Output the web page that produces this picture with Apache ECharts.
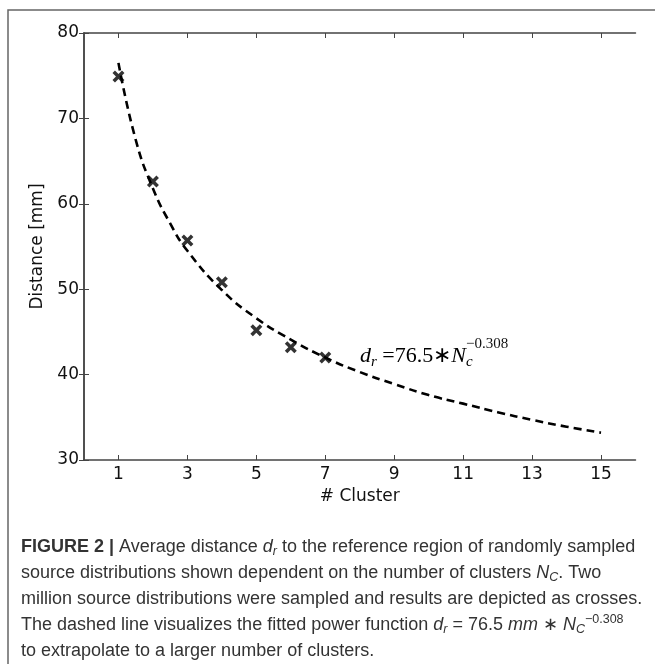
<!DOCTYPE html>
<html>
<head>
<meta charset="utf-8">
<script src="https://cdn.jsdelivr.net/npm/echarts/dist/echarts.min.js"></script>
<style>
  html, body { margin: 0; padding: 0; background: #fff; }
  #chart { width: 655px; height: 664px; }
</style>
</head>
<body>
<div id="chart"></div>
<script>
// measured crosses (# cluster -> distance in mm)
const clusters = [1, 2, 3, 4, 5, 6, 7];
const distances = [74.9, 62.6, 55.7, 50.8, 45.2, 43.2, 42.0];

// dashed fitted curve
const fitX = [1, 1.5, 2, 2.5, 3, 4, 5, 6, 7, 8, 9, 10, 11, 12, 13, 14, 15];
const fitY = [76.5, 67.5, 61.8, 57.7, 54.5, 49.9, 46.6, 44.1, 42.0, 40.3, 38.9, 37.6, 36.6, 35.6, 34.7, 33.9, 33.2];

const xTicks = [1, 3, 5, 7, 9, 11, 13, 15];

const captionLines = [
  '{b|FIGURE 2 |} Average distance {i|d}{isub|r} to the reference region of randomly sampled',
  'source distributions shown dependent on the number of clusters {i|N}{isub|C}. Two',
  'million source distributions were sampled and results are depicted as crosses.',
  'The dashed line visualizes the fitted power function {i|d}{isub|r} = 76.5{i| mm} \u2217 {i|N}{isub|C}{sup|\u22120.308}',
  'to extrapolate to a larger number of clusters.'
];

const axisColor = '#444';
const labelFont = { fontFamily: 'DejaVu Sans', fontSize: 17, color: '#111' };
const crossPath = 'path://M0,2.5L2.5,0L6,3.5L9.5,0L12,2.5L8.5,6L12,9.5L9.5,12L6,8.5L2.5,12L0,9.5L3.5,6Z';
const capSize = 18;

const capRich = {
  b: { fontWeight: 'bold', fontFamily: 'Liberation Sans', fontSize: capSize, color: '#222' },
  i: { fontStyle: 'italic', fontFamily: 'Liberation Sans', fontSize: capSize, color: '#333' },
  isub: { fontStyle: 'italic', fontFamily: 'Liberation Sans', fontSize: 12.5, color: '#333', padding: [10, 0, 0, 0] },
  sup: { fontFamily: 'Liberation Sans', fontSize: 12.5, color: '#333', padding: [0, 0, 11, 0] }
};

let myChart = echarts.init(document.getElementById('chart'));

let graphics = [
  {
    type: 'rect',
    shape: { x: 8, y: 10, width: 700, height: 700 },
    style: { fill: 'none', stroke: '#666', lineWidth: 1.5 },
    silent: true
  },
  {
    type: 'text',
    x: 360, y: 356,
    style: {
      text: '{d|d}{sub|r}{n| =76.5\u2217}{d|N}{sub|c}',
      verticalAlign: 'middle',
      rich: {
        d: { fontFamily: 'Liberation Serif', fontStyle: 'italic', fontSize: 22, color: '#111' },
        n: { fontFamily: 'Liberation Serif', fontSize: 22, color: '#111' },
        sub: { fontFamily: 'Liberation Serif', fontStyle: 'italic', fontSize: 15, color: '#111', padding: [12, 0, 0, 0] }
      }
    }
  },
  {
    type: 'text',
    x: 466, y: 344,
    style: {
      text: '\u22120.308',
      fontFamily: 'Liberation Serif', fontSize: 15, fill: '#111',
      verticalAlign: 'middle'
    }
  }
];

captionLines.forEach((line, i) => {
  graphics.push({
    type: 'text',
    x: 21,
    y: 547 + i * 26,
    style: {
      text: line,
      fontFamily: 'Liberation Sans',
      fontSize: capSize,
      fill: '#333',
      verticalAlign: 'middle',
      rich: capRich
    }
  });
});

let option = {
  backgroundColor: '#fff',
  animation: false,
  grid: { left: 84, top: 33, right: 19.5, bottom: 204, containLabel: false },
  xAxis: [
    {
      type: 'value',
      position: 'bottom',
      min: 0,
      max: 16,
      name: '# Cluster',
      nameLocation: 'middle',
      nameGap: 26,
      nameTextStyle: labelFont,
      axisLine: { show: true, lineStyle: { color: axisColor, width: 1.5 } },
      axisTick: { show: true, inside: true, length: 5, customValues: xTicks, lineStyle: { color: axisColor } },
      axisLabel: Object.assign({ customValues: xTicks, margin: 6 }, labelFont),
      splitLine: { show: false }
    },
    {
      type: 'value',
      position: 'top',
      min: 0,
      max: 16,
      axisLine: { show: true, lineStyle: { color: axisColor, width: 1.5 } },
      axisTick: { show: true, inside: true, length: 5, customValues: xTicks, lineStyle: { color: axisColor } },
      axisLabel: { show: false },
      splitLine: { show: false }
    }
  ],
  yAxis: [
    {
      type: 'value',
      position: 'left',
      min: 30,
      max: 80,
      interval: 10,
      name: 'Distance [mm]',
      nameLocation: 'middle',
      nameGap: 34,
      nameTextStyle: labelFont,
      axisLine: { show: true, lineStyle: { color: axisColor, width: 1.5 } },
      axisTick: { show: true, inside: true, length: 5, lineStyle: { color: axisColor } },
      axisLabel: Object.assign({ margin: 5 }, labelFont),
      splitLine: { show: false }
    },
    {
      type: 'value',
      position: 'right',
      min: 30,
      max: 80,
      interval: 10,
      axisLine: { show: true, lineStyle: { color: axisColor, width: 1.5 } },
      axisTick: { show: true, inside: true, length: 5, lineStyle: { color: axisColor } },
      axisLabel: { show: false },
      splitLine: { show: false }
    }
  ],
  series: [
    {
      name: 'fit',
      type: 'line',
      data: fitX.map((x, i) => [x, fitY[i]]),
      smooth: true,
      symbol: 'none',
      lineStyle: { color: '#000', width: 2.6, type: [8, 5] },
      z: 2
    },
    {
      name: 'sampled',
      type: 'scatter',
      data: clusters.map((c, i) => [c, distances[i]]),
      symbol: crossPath,
      symbolSize: 12,
      itemStyle: { color: '#000' },
      z: 3
    }
  ],
  graphic: graphics
};

myChart.setOption(option, true);
</script>
</body>
</html>
